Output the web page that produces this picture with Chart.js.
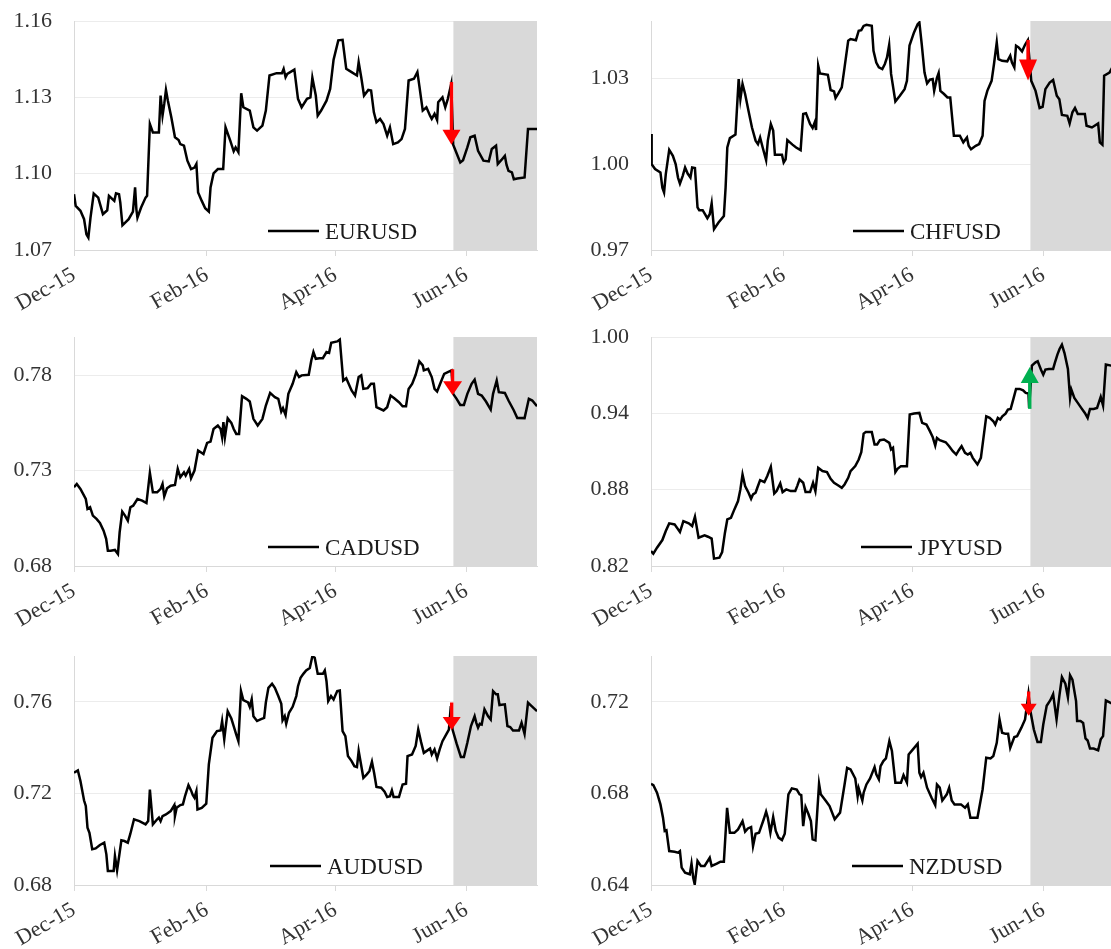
<!DOCTYPE html>
<html>
<head>
<meta charset="utf-8">
<script src="https://cdn.jsdelivr.net/npm/chart.js@4.4.1/dist/chart.umd.min.js"></script>
<style>
  html, body { margin: 0; padding: 0; background: #fff; overflow: hidden; width: 1111px; height: 949px; }
  canvas { position: absolute; }
</style>
</head>
<body>
<canvas id="c0" width="560" height="317" style="left:0;top:0"></canvas>
<canvas id="c1" width="560" height="317" style="left:577px;top:0"></canvas>
<canvas id="c2" width="560" height="317" style="left:0;top:316px"></canvas>
<canvas id="c3" width="560" height="317" style="left:577px;top:316px"></canvas>
<canvas id="c4" width="560" height="317" style="left:0;top:635px"></canvas>
<canvas id="c5" width="560" height="317" style="left:577px;top:635px"></canvas>
<script>
// x values are days counted from 1 Dec 2015
const tickDays = [0, 62, 122, 183];
const tickLabels = ['Dec-15', 'Feb-16', 'Apr-16', 'Jun-16'];
const dayMax = 216;
const shadeFrom = 177;

const names = ['EURUSD', 'CHFUSD', 'CADUSD', 'JPYUSD', 'AUDUSD', 'NZDUSD'];

// [day, rate]
const eurusd = [[0,1.0919],[0.8,1.0873],[3.0,1.0854],[4.7,1.0821],[5.8,1.0762],[6.7,1.0749],[7.7,1.0827],[9.2,1.0922],[11.3,1.0906],[13.5,1.0841],[15.5,1.0856],[16.3,1.0913],[18.8,1.0893],[19.6,1.0923],[21.0,1.0919],[21.6,1.0886],[22.6,1.0797],[25.5,1.0821],[27.5,1.0851],[28.5,1.0946],[29.1,1.0860],[29.6,1.0827],[31.3,1.0867],[33.4,1.0906],[34.1,1.0913],[35.4,1.1195],[36.8,1.1162],[39.6,1.1162],[40.4,1.1307],[41.3,1.1228],[42.1,1.1274],[42.9,1.1329],[43.8,1.1287],[45.4,1.1222],[47.1,1.1143],[48.8,1.1132],[49.6,1.1116],[51.3,1.1110],[52.9,1.1051],[54.6,1.1018],[56.2,1.1024],[57.1,1.1038],[57.9,1.0926],[59.6,1.0893],[61.2,1.0864],[62.9,1.0851],[63.7,1.0946],[65.1,1.1001],[67.1,1.1018],[69.6,1.1018],[70.7,1.1182],[72.9,1.1130],[74.5,1.1088],[75.4,1.1103],[76.7,1.1084],[78.0,1.1316],[79.0,1.1261],[82.0,1.1248],[83.7,1.1182],[85.4,1.1169],[87.9,1.1189],[89.5,1.1248],[91.2,1.1386],[94.5,1.1395],[97.0,1.1395],[97.8,1.1412],[98.7,1.1379],[99.5,1.1392],[102.8,1.1409],[104.5,1.1294],[106.2,1.1261],[108.7,1.1294],[110.3,1.1300],[111.2,1.1377],[112.8,1.1307],[113.7,1.1228],[115.3,1.1248],[117.8,1.1287],[119.5,1.1333],[121.1,1.1448],[123.3,1.1524],[125.3,1.1526],[127.0,1.1412],[129.5,1.1399],[132.0,1.1386],[132.8,1.1438],[134.0,1.1379],[135.3,1.1307],[137.3,1.1329],[138.6,1.1327],[139.9,1.1241],[141.1,1.1202],[142.8,1.1215],[144.4,1.1195],[146.1,1.1149],[147.4,1.1182],[148.9,1.1116],[151.1,1.1123],[152.8,1.1136],[154.4,1.1176],[156.1,1.1366],[158.6,1.1373],[160.2,1.1399],[161.1,1.1346],[162.7,1.1248],[164.4,1.1261],[166.1,1.1228],[166.9,1.1215],[168.2,1.1235],[169.4,1.1211],[169.9,1.1281],[171.9,1.1300],[173.2,1.1261],[174.4,1.1294],[176.0,1.1353],[176.9,1.1114],[180.2,1.1044],[181.5,1.1053],[183.5,1.1103],[184.9,1.1143],[186.9,1.1149],[188.5,1.1090],[191.0,1.1051],[193.5,1.1048],[194.9,1.1097],[196.9,1.1110],[197.7,1.1038],[199.3,1.1053],[201.0,1.1070],[201.8,1.1034],[202.7,1.1011],[204.3,1.1005],[205.2,1.0978],[206.8,1.0981],[210.2,1.0985],[211.8,1.1176],[216.0,1.1176]];

const chfusd = [[0,1.0105],[0.3,1.0000],[1.9,0.9983],[4.4,0.9971],[5.3,0.9918],[6.1,0.9901],[6.9,0.9965],[8.5,1.0050],[10.2,1.0029],[11.5,1.0000],[12.6,0.9953],[13.5,0.9932],[14.8,0.9959],[15.9,0.9988],[17.1,0.9967],[18.4,0.9953],[19.2,0.9988],[20.5,0.9986],[21.7,0.9849],[22.5,0.9839],[24.1,0.9839],[26.3,0.9811],[27.4,0.9825],[28.3,0.9863],[29.4,0.9773],[31.5,0.9796],[34.0,0.9819],[34.8,0.9918],[35.6,1.0058],[36.8,1.0091],[39.4,1.0103],[40.9,1.0297],[41.7,1.0227],[42.7,1.0280],[43.9,1.0245],[45.5,1.0186],[47.1,1.0128],[48.8,1.0082],[49.9,1.0070],[50.9,1.0093],[52.1,1.0058],[53.7,1.0014],[54.5,1.0082],[55.9,1.0140],[57.0,1.0117],[57.8,1.0033],[61.1,1.0033],[61.9,1.0006],[62.8,1.0017],[63.6,1.0084],[66.0,1.0068],[67.7,1.0058],[69.8,1.0049],[71.0,1.0175],[72.3,1.0178],[74.2,1.0140],[75.4,1.0126],[76.4,1.0146],[77.0,1.0119],[78.0,1.0344],[78.8,1.0317],[82.5,1.0312],[83.8,1.0259],[85.4,1.0254],[86.1,1.0231],[87.4,1.0247],[89.0,1.0268],[90.3,1.0338],[92.0,1.0431],[93.1,1.0437],[95.6,1.0433],[96.9,1.0466],[98.1,1.0468],[99.2,1.0483],[100.5,1.0487],[103.0,1.0483],[103.8,1.0396],[105.1,1.0355],[106.3,1.0338],[107.9,1.0332],[109.1,1.0350],[110.1,1.0373],[111.1,1.0416],[112.0,1.0315],[114.0,1.0219],[116.1,1.0239],[118.3,1.0262],[119.4,1.0291],[120.6,1.0414],[122.7,1.0460],[124.4,1.0489],[125.2,1.0495],[126.3,1.0419],[127.6,1.0320],[128.8,1.0282],[130.1,1.0295],[131.4,1.0297],[132.1,1.0256],[133.4,1.0301],[134.2,1.0318],[135.0,1.0256],[136.7,1.0245],[138.3,1.0233],[139.6,1.0233],[141.3,1.0099],[144.1,1.0099],[145.7,1.0076],[147.4,1.0093],[148.2,1.0064],[149.3,1.0052],[151.5,1.0064],[153.1,1.0070],[154.7,1.0099],[155.6,1.0221],[156.9,1.0256],[158.9,1.0291],[160.0,1.0349],[161.3,1.0425],[162.1,1.0367],[163.8,1.0361],[166.2,1.0359],[167.6,1.0379],[168.4,1.0355],[169.5,1.0338],[170.3,1.0414],[171.5,1.0408],[173.1,1.0394],[174.5,1.0417],[175.8,1.0433],[177.4,1.0291],[179.4,1.0256],[181.3,1.0196],[182.7,1.0200],[184.0,1.0262],[186.0,1.0285],[187.6,1.0294],[189.3,1.0239],[190.5,1.0227],[191.7,1.0172],[194.2,1.0169],[195.3,1.0142],[196.6,1.0181],[197.8,1.0196],[199.1,1.0175],[202.4,1.0175],[203.2,1.0134],[205.7,1.0128],[208.6,1.0142],[209.4,1.0076],[210.6,1.0068],[211.4,1.0309],[213.9,1.0320],[215.2,1.0338],[216.0,1.0345]];

const cadusd = [[0,0.7213],[1.3,0.7230],[3.0,0.7204],[5.5,0.7151],[6.3,0.7099],[7.5,0.7108],[8.8,0.7064],[10.5,0.7047],[12.1,0.7026],[13.8,0.6985],[15.0,0.6942],[15.8,0.6880],[17.1,0.6880],[19.1,0.6884],[20.5,0.6863],[21.3,0.6977],[22.5,0.7085],[23.8,0.7064],[25.1,0.7038],[26.3,0.7108],[27.6,0.7116],[29.6,0.7151],[31.8,0.7143],[33.8,0.7130],[35.4,0.7288],[36.8,0.7186],[38.8,0.7186],[40.4,0.7204],[41.3,0.7230],[42.1,0.7165],[43.4,0.7207],[45.1,0.7221],[47.1,0.7225],[48.4,0.7309],[49.6,0.7265],[51.3,0.7291],[52.1,0.7274],[53.7,0.7309],[54.6,0.7260],[56.2,0.7300],[57.9,0.7405],[60.4,0.7387],[62.1,0.7445],[63.7,0.7452],[65.1,0.7518],[67.1,0.7536],[68.4,0.7518],[69.1,0.7475],[69.7,0.7554],[70.4,0.7475],[71.7,0.7574],[73.4,0.7550],[74.5,0.7518],[75.7,0.7492],[77.0,0.7492],[78.4,0.7690],[80.4,0.7676],[82.0,0.7662],[83.7,0.7571],[85.7,0.7536],[87.9,0.7571],[89.5,0.7641],[91.5,0.7707],[93.7,0.7685],[95.3,0.7676],[96.7,0.7609],[97.5,0.7627],[98.7,0.7592],[100.0,0.7702],[102.0,0.7755],[103.7,0.7816],[105.0,0.7790],[106.2,0.7799],[109.5,0.7802],[110.7,0.7877],[111.7,0.7921],[112.8,0.7886],[114.5,0.7889],[116.1,0.7889],[117.8,0.7921],[119.0,0.7917],[120.0,0.7970],[122.8,0.7977],[124.0,0.7987],[125.6,0.7772],[127.0,0.7784],[129.5,0.7720],[131.1,0.7693],[132.8,0.7790],[134.0,0.7799],[135.0,0.7728],[137.0,0.7732],[138.6,0.7755],[139.9,0.7755],[141.1,0.7632],[144.4,0.7615],[146.1,0.7632],[147.7,0.7693],[149.4,0.7679],[151.6,0.7658],[153.3,0.7637],[154.9,0.7637],[156.1,0.7728],[157.8,0.7755],[159.4,0.7802],[161.1,0.7872],[162.7,0.7851],[163.2,0.7825],[165.2,0.7833],[166.9,0.7790],[168.2,0.7728],[169.4,0.7714],[171.1,0.7763],[172.7,0.7807],[174.4,0.7816],[176.1,0.7825],[176.9,0.7702],[178.5,0.7676],[180.2,0.7644],[181.9,0.7644],[183.5,0.7702],[185.5,0.7755],[186.9,0.7776],[188.5,0.7702],[190.2,0.7693],[192.2,0.7662],[194.4,0.7620],[195.5,0.7702],[197.2,0.7772],[198.2,0.7711],[201.0,0.7707],[202.7,0.7667],[205.2,0.7615],[206.8,0.7576],[210.2,0.7575],[212.2,0.7676],[213.8,0.7667],[216.0,0.7637]];

const jpyusd = [[0,0.8318],[1.1,0.8297],[2.8,0.8344],[5.3,0.8404],[6.9,0.8475],[8.5,0.8535],[11.0,0.8527],[13.5,0.8467],[15.1,0.8553],[17.6,0.8535],[19.2,0.8514],[20.5,0.8587],[22.2,0.8422],[25.0,0.8441],[26.6,0.8430],[28.3,0.8415],[29.4,0.8258],[31.9,0.8265],[33.2,0.8310],[34.5,0.8462],[35.6,0.8566],[37.3,0.8579],[38.9,0.8645],[40.6,0.8710],[41.7,0.8802],[42.7,0.8919],[43.9,0.8828],[45.5,0.8776],[46.7,0.8728],[47.6,0.8763],[48.8,0.8776],[49.6,0.8815],[50.9,0.8875],[52.9,0.8859],[54.2,0.8906],[55.9,0.8980],[57.5,0.8770],[58.6,0.8789],[60.3,0.8849],[61.4,0.8781],[63.1,0.8802],[65.2,0.8789],[67.3,0.8789],[68.2,0.8828],[69.3,0.8880],[71.0,0.8854],[72.1,0.8781],[74.2,0.8781],[75.6,0.8854],[76.7,0.8789],[78.0,0.8972],[80.0,0.8946],[82.1,0.8938],[83.8,0.8885],[85.4,0.8854],[87.4,0.8833],[89.0,0.8815],[90.3,0.8841],[92.0,0.8893],[93.1,0.8946],[95.3,0.8985],[96.9,0.9037],[98.1,0.9095],[99.2,0.9241],[100.2,0.9254],[103.0,0.9254],[104.3,0.9155],[105.5,0.9155],[106.8,0.9189],[108.7,0.9194],[111.2,0.9168],[112.0,0.9116],[112.9,0.9129],[114.0,0.8938],[115.0,0.8964],[116.6,0.8985],[119.4,0.8985],[120.7,0.9390],[122.7,0.9398],[125.2,0.9403],[126.5,0.9325],[128.5,0.9312],[130.1,0.9260],[131.4,0.9215],[132.6,0.9147],[133.4,0.9207],[134.7,0.9189],[137.5,0.9173],[139.1,0.9142],[140.8,0.9103],[142.4,0.9076],[143.6,0.9110],[144.9,0.9142],[146.5,0.9090],[147.8,0.9076],[149.0,0.9090],[150.1,0.9050],[152.3,0.8998],[153.9,0.9050],[156.4,0.9377],[158.0,0.9364],[159.7,0.9338],[160.6,0.9312],[161.8,0.9364],[162.9,0.9351],[163.9,0.9377],[165.4,0.9398],[166.5,0.9430],[167.8,0.9435],[169.2,0.9521],[170.3,0.9592],[172.0,0.9592],[173.6,0.9581],[174.8,0.9560],[176.1,0.9555],[176.4,0.9443],[177.7,0.9775],[179.4,0.9801],[180.4,0.9809],[181.9,0.9744],[183.0,0.9704],[184.0,0.9744],[185.6,0.9749],[187.6,0.9749],[188.4,0.9796],[189.6,0.9861],[190.6,0.9906],[191.7,0.9940],[192.9,0.9874],[194.5,0.9749],[195.5,0.9521],[196.1,0.9587],[197.5,0.9521],[199.1,0.9482],[200.7,0.9443],[202.4,0.9403],[203.7,0.9364],[204.8,0.9435],[206.5,0.9435],[208.1,0.9443],[209.8,0.9529],[210.9,0.9461],[212.2,0.9783],[214.7,0.9775],[216.0,0.9770]];

const audusd = [[0,0.7290],[1.8,0.7300],[3.0,0.7254],[4.7,0.7169],[5.5,0.7145],[6.3,0.7050],[7.2,0.7028],[8.5,0.6956],[10.1,0.6960],[12.1,0.6975],[14.1,0.6985],[15.1,0.6934],[15.8,0.6861],[18.5,0.6861],[19.1,0.6927],[20.1,0.6864],[21.0,0.6922],[22.1,0.6995],[23.5,0.6992],[25.1,0.6985],[26.3,0.7024],[28.0,0.7087],[30.5,0.7079],[33.4,0.7065],[34.6,0.7079],[35.4,0.7217],[36.8,0.7065],[38.8,0.7087],[39.6,0.7094],[40.4,0.7079],[41.3,0.7101],[42.9,0.7108],[45.1,0.7123],[46.8,0.7149],[47.1,0.7101],[47.9,0.7137],[49.6,0.7149],[50.8,0.7152],[51.8,0.7188],[53.4,0.7236],[54.6,0.7213],[55.4,0.7193],[56.2,0.7181],[57.1,0.7210],[57.6,0.7130],[59.6,0.7137],[61.7,0.7155],[62.9,0.7327],[64.6,0.7443],[66.7,0.7472],[68.4,0.7475],[69.1,0.7516],[70.1,0.7436],[70.7,0.7484],[71.7,0.7559],[73.4,0.7527],[74.5,0.7494],[75.7,0.7457],[76.7,0.7428],[77.9,0.7647],[79.0,0.7607],[81.2,0.7597],[82.0,0.7578],[82.9,0.7611],[83.7,0.7537],[85.4,0.7516],[87.0,0.7523],[88.7,0.7530],[89.5,0.7597],[90.7,0.7661],[92.4,0.7679],[93.7,0.7661],[95.3,0.7625],[96.7,0.7591],[97.3,0.7519],[98.3,0.7537],[99.0,0.7504],[100.3,0.7552],[102.0,0.7578],[103.7,0.7625],[104.5,0.7668],[105.7,0.7705],[107.0,0.7722],[108.3,0.7737],[110.0,0.7748],[111.2,0.7799],[112.3,0.7792],[113.7,0.7722],[115.0,0.7722],[116.1,0.7722],[117.0,0.7737],[117.8,0.7690],[118.6,0.7603],[119.9,0.7625],[121.1,0.7610],[122.8,0.7647],[124.0,0.7649],[125.3,0.7472],[126.6,0.7450],[127.8,0.7363],[129.5,0.7341],[130.8,0.7319],[132.0,0.7315],[132.8,0.7385],[135.0,0.7268],[136.6,0.7283],[137.8,0.7297],[139.0,0.7338],[140.0,0.7290],[141.1,0.7228],[143.3,0.7225],[144.9,0.7207],[146.1,0.7184],[147.4,0.7188],[148.3,0.7213],[149.1,0.7184],[151.6,0.7184],[153.3,0.7239],[154.9,0.7242],[155.6,0.7363],[157.7,0.7370],[159.4,0.7407],[160.6,0.7479],[161.9,0.7425],[163.2,0.7377],[164.9,0.7388],[166.1,0.7396],[166.9,0.7370],[168.2,0.7392],[169.4,0.7353],[170.6,0.7392],[171.9,0.7428],[173.6,0.7457],[174.9,0.7479],[175.8,0.7581],[176.6,0.7479],[178.5,0.7417],[180.5,0.7359],[181.9,0.7359],[183.5,0.7421],[185.2,0.7494],[186.9,0.7537],[187.7,0.7508],[188.5,0.7487],[189.3,0.7504],[190.2,0.7501],[191.5,0.7567],[193.2,0.7537],[194.4,0.7523],[195.5,0.7647],[196.9,0.7633],[197.7,0.7633],[198.5,0.7586],[201.0,0.7589],[202.2,0.7494],[203.5,0.7490],[204.8,0.7475],[207.6,0.7475],[208.8,0.7508],[210.2,0.7460],[211.8,0.7596],[213.5,0.7581],[216.0,0.7559]];

const nzdusd = [[0,0.6842],[1.1,0.6836],[2.8,0.6803],[4.4,0.6752],[5.6,0.6694],[6.4,0.6636],[7.2,0.6639],[8.5,0.6548],[11.0,0.6545],[12.6,0.6541],[13.5,0.6548],[14.3,0.6476],[15.9,0.6454],[18.1,0.6447],[18.9,0.6493],[19.7,0.6432],[20.4,0.6403],[21.7,0.6505],[23.3,0.6483],[25.0,0.6483],[27.4,0.6519],[28.3,0.6483],[30.7,0.6493],[32.4,0.6502],[34.0,0.6502],[35.5,0.6737],[36.8,0.6628],[38.9,0.6628],[40.6,0.6643],[42.7,0.6679],[43.9,0.6633],[45.2,0.6647],[46.7,0.6653],[47.6,0.6570],[48.8,0.6624],[50.4,0.6628],[52.6,0.6687],[53.7,0.6720],[54.5,0.6694],[55.7,0.6628],[57.0,0.6697],[58.2,0.6636],[59.5,0.6607],[61.1,0.6596],[62.4,0.6624],[64.1,0.6796],[65.7,0.6822],[68.0,0.6817],[69.3,0.6796],[70.1,0.6793],[71.0,0.6657],[72.1,0.6740],[73.4,0.6711],[74.6,0.6679],[75.4,0.6599],[76.7,0.6595],[78.4,0.6842],[79.2,0.6796],[81.6,0.6767],[83.3,0.6745],[85.7,0.6687],[88.2,0.6716],[90.3,0.6839],[91.5,0.6912],[93.1,0.6905],[95.3,0.6865],[96.4,0.6788],[96.9,0.6822],[98.6,0.6769],[99.2,0.6803],[100.5,0.6839],[102.2,0.6865],[104.3,0.6915],[105.1,0.6883],[106.3,0.6861],[107.1,0.6919],[108.4,0.6941],[109.6,0.6953],[111.2,0.7028],[112.4,0.6985],[114.0,0.6847],[116.6,0.6847],[117.8,0.6880],[119.4,0.6847],[120.2,0.6970],[122.2,0.6992],[124.4,0.7017],[125.2,0.6890],[126.0,0.6871],[127.1,0.6890],[128.8,0.6825],[130.9,0.6781],[132.6,0.6749],[133.4,0.6839],[134.7,0.6825],[135.9,0.6769],[138.0,0.6796],[139.1,0.6825],[140.3,0.6769],[141.6,0.6752],[144.6,0.6752],[146.5,0.6737],[147.8,0.6752],[149.0,0.6694],[152.3,0.6694],[154.7,0.6817],[156.4,0.6956],[158.4,0.6953],[159.7,0.6963],[161.3,0.7021],[162.6,0.7123],[163.8,0.7065],[165.4,0.7060],[166.6,0.7060],[167.6,0.6999],[169.5,0.7046],[170.8,0.7050],[172.8,0.7087],[174.5,0.7123],[176.1,0.7235],[177.0,0.7160],[178.6,0.7079],[180.3,0.7025],[181.9,0.7025],[183.0,0.7101],[184.6,0.7183],[186.3,0.7207],[187.6,0.7233],[189.2,0.7123],[190.5,0.7225],[191.7,0.7308],[193.3,0.7279],[194.5,0.7220],[195.5,0.7316],[196.6,0.7297],[198.3,0.7203],[198.8,0.7116],[200.4,0.7116],[201.6,0.7108],[202.7,0.7040],[203.7,0.7031],[204.8,0.6996],[206.5,0.6996],[208.6,0.6988],[209.8,0.7036],[210.9,0.7050],[212.2,0.7206],[214.2,0.7196],[216.0,0.7188]];

// y-axis bounds and gridline values
const eurAxis = [1.07, 1.16], eurTicks = [1.07, 1.10, 1.13, 1.16];
const chfAxis = [0.97, 1.05], chfTicks = [0.97, 1.00, 1.03];
const cadAxis = [0.68, 0.80], cadTicks = [0.68, 0.73, 0.78];
const jpyAxis = [0.82, 1.00], jpyTicks = [0.82, 0.88, 0.94, 1.00];
const audAxis = [0.68, 0.78], audTicks = [0.68, 0.72, 0.76];
const nzdAxis = [0.64, 0.74], nzdTicks = [0.64, 0.68, 0.72];

// move on the event day: [day, rate before, rate after]
const eurMove = [176.1, 1.1360, 1.1114];
const chfMove = [175.9, 1.0434, 1.0292];
const cadMove = [176.6, 0.7831, 0.7695];
const jpyMove = [176.7, 0.9435, 0.9765];
const audMove = [176.2, 0.7597, 0.7477];
const nzdMove = [176.2, 0.7245, 0.7139];

const SERIF = '"Liberation Serif", "Times New Roman", serif';

const shadePlugin = {
  id: 'eventShade',
  beforeDatasetsDraw(chart, args, opts) {
    const { ctx, chartArea: a, scales: { x } } = chart;
    const x0 = x.getPixelForValue(opts.from);
    ctx.save();
    ctx.fillStyle = opts.color;
    ctx.fillRect(x0, a.top, a.right - x0, a.bottom - a.top);
    ctx.restore();
  }
};

const arrowPlugin = {
  id: 'moveArrow',
  afterDatasetsDraw(chart, args, opts) {
    const { ctx, scales: { x, y } } = chart;
    const [day, from, to] = opts.move;
    const px = x.getPixelForValue(day);
    const y0 = y.getPixelForValue(from);
    const y1 = y.getPixelForValue(to);
    const dir = Math.sign(y1 - y0);
    const color = to > from ? '#00b050' : '#ff0000';
    const hl = opts.headLength, hw = opts.headWidth;
    ctx.save();
    ctx.strokeStyle = color;
    ctx.fillStyle = color;
    ctx.lineWidth = 3.4;
    ctx.beginPath();
    ctx.moveTo(px, y0);
    ctx.lineTo(px, y1 - dir * hl * 0.6);
    ctx.stroke();
    ctx.beginPath();
    ctx.moveTo(px - hw / 2, y1 - dir * hl);
    ctx.lineTo(px + hw / 2, y1 - dir * hl);
    ctx.lineTo(px, y1);
    ctx.closePath();
    ctx.fill();
    ctx.restore();
  }
};

const keyPlugin = {
  id: 'seriesKey',
  afterDraw(chart, args, opts) {
    const { ctx, chartArea: a } = chart;
    const ds = chart.data.datasets[0];
    const x0 = a.left + opts.offset;
    const yk = a.bottom - 19;
    ctx.save();
    ctx.strokeStyle = ds.borderColor;
    ctx.lineWidth = ds.borderWidth;
    ctx.beginPath();
    ctx.moveTo(x0, yk);
    ctx.lineTo(x0 + 51, yk);
    ctx.stroke();
    ctx.fillStyle = '#1a1a1a';
    ctx.font = '23px ' + SERIF;
    ctx.textAlign = 'left';
    ctx.textBaseline = 'middle';
    ctx.fillText(ds.label, x0 + 57, yk + 1.5);
    ctx.restore();
  }
};

function makePanel(id, name, series, axis, ticks, move, keyOffset, head) {
  new Chart(document.getElementById(id), {
    type: 'line',
    data: {
      datasets: [{
        label: name,
        data: series.map(p => ({ x: p[0], y: p[1] })),
        borderColor: '#000000',
        borderWidth: 2.5,
        pointRadius: 0,
        tension: 0,
        fill: false
      }]
    },
    options: {
      responsive: false,
      animation: false,
      events: [],
      layout: { padding: { top: 21, right: 23, left: 0, bottom: 0 } },
      scales: {
        x: {
          type: 'linear',
          min: 0,
          max: dayMax,
          afterBuildTicks: s => { s.ticks = tickDays.map(v => ({ value: v })); },
          afterFit: s => { s.height = 67; s.paddingLeft = 0; s.paddingRight = 0; },
          ticks: {
            autoSkip: false,
            minRotation: 30,
            maxRotation: 30,
            padding: 6,
            color: '#333333',
            font: { family: SERIF, size: 22 },
            callback: (v, i) => tickLabels[i]
          },
          grid: { drawOnChartArea: false, drawTicks: true, tickLength: 6, color: '#d9d9d9' },
          border: { display: true, color: '#d9d9d9', width: 1 }
        },
        y: {
          min: axis[0],
          max: axis[1],
          afterBuildTicks: s => { s.ticks = ticks.map(v => ({ value: v })); },
          afterFit: s => { s.width = 74; s.paddingTop = 0; s.paddingBottom = 0; },
          ticks: {
            padding: 22,
            color: '#333333',
            font: { family: SERIF, size: 22 },
            callback: v => v.toFixed(2)
          },
          grid: { color: '#ececec', drawTicks: false, lineWidth: 1 },
          border: { display: true, color: '#d9d9d9', width: 1 }
        }
      },
      plugins: {
        legend: { display: false },
        tooltip: { enabled: false },
        eventShade: { from: shadeFrom, color: '#d9d9d9' },
        moveArrow: { move: move, headLength: head[0], headWidth: head[1] },
        seriesKey: { offset: keyOffset }
      }
    },
    plugins: [shadePlugin, arrowPlugin, keyPlugin]
  });
}

makePanel('c0', names[0], eurusd, eurAxis, eurTicks, eurMove, 194, [15, 18]);
makePanel('c1', names[1], chfusd, chfAxis, chfTicks, chfMove, 202, [21, 18]);
makePanel('c2', names[2], cadusd, cadAxis, cadTicks, cadMove, 194, [14, 19]);
makePanel('c3', names[3], jpyusd, jpyAxis, jpyTicks, jpyMove, 210, [16, 18]);
makePanel('c4', names[4], audusd, audAxis, audTicks, audMove, 196, [13, 18]);
makePanel('c5', names[5], nzdusd, nzdAxis, nzdTicks, nzdMove, 201, [12, 16]);
</script>
</body>
</html>
